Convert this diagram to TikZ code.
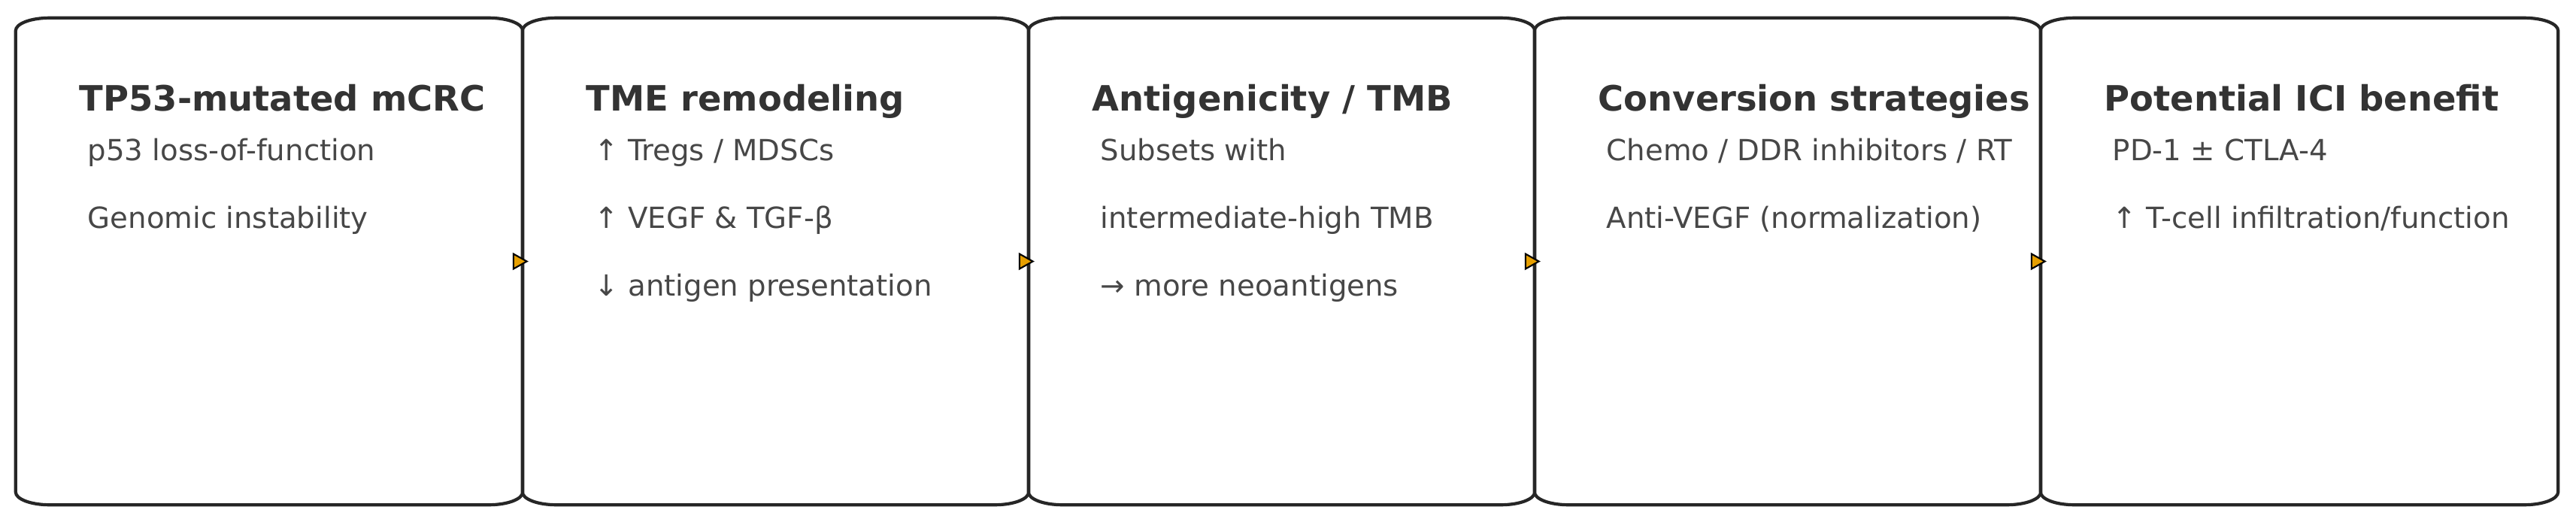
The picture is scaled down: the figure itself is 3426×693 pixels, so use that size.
\documentclass[tikz,border=0pt]{standalone}
\usepackage{fontspec}
\setmainfont{DejaVu Sans}
\usetikzlibrary{arrows.meta}
\definecolor{tipfill}{RGB}{230,159,0}
\tikzset{
  stage/.style={rectangle, minimum height=6.47cm, inner sep=0pt, outer sep=0pt},
  outline/.style={line width=1.2pt, draw=black!85},
  head/.style={anchor=base west, inner sep=0pt, text=black!80,
    font=\fontsize{13.2}{15}\selectfont\bfseries},
  item/.style={anchor=base west, inner sep=0pt, text=black!72,
    font=\fontsize{11.0}{13}\selectfont},
  flow/.style={-{Triangle[length=0.21cm, width=0.23cm, fill=tipfill]},
    line width=0.6pt, draw=black},
}
\begin{document}
\begin{tikzpicture}[x=0.01cm, y=0.01cm]
    \fill[white] (0, 0) rectangle (3426, 693);
    \useasboundingbox (0, 0) rectangle (3426, 693);
    % stages
    \node[stage, minimum width=6.74cm] (b1) at (358, 345.5) {};
    \node[stage, minimum width=6.73cm] (b2) at (1031.5, 345.5) {};
    \node[stage, minimum width=6.73cm] (b3) at (1704.5, 345.5) {};
    \node[stage, minimum width=6.73cm] (b4) at (2377.5, 345.5) {};
    \node[stage, minimum width=6.88cm] (b5) at (3058, 345.5) {};
    \foreach \b in {b1, b2, b3, b4, b5}
      \draw[outline] ([xshift=0.45cm]\b.north west) -- ([xshift=-0.45cm]\b.north east)
        arc[start angle=90, end angle=0, x radius=0.45cm, y radius=0.17cm]
        -- ([yshift=0.17cm]\b.south east)
        arc[start angle=0, end angle=-90, x radius=0.45cm, y radius=0.17cm]
        -- ([xshift=0.45cm]\b.south west)
        arc[start angle=270, end angle=180, x radius=0.45cm, y radius=0.17cm]
        -- ([yshift=-0.17cm]\b.north west)
        arc[start angle=180, end angle=90, x radius=0.45cm, y radius=0.17cm]
        -- cycle;
    % titles
    \node[head] (t1) at (105, 546) {TP53-mutated mCRC};
    \node[head] (t2) at (779, 546) {TME remodeling};
    \node[head] (t3) at (1452, 546) {Antigenicity / TMB};
    \node[head] (t4) at (2125, 546) {Conversion strategies};
    \node[head] (t5) at (2798, 546) {Potential ICI benefit};
    % items
    \node[item] (p1) at (116, 480) {p53 loss-of-function};
    \node[item] (p2) at (116, 390) {Genomic instability};
    \node[item] (q1) at (790, 480) {↑ Tregs / MDSCs};
    \node[item] (q2) at (790, 390) {↑ VEGF \& TGF-β};
    \node[item] (q3) at (790, 300) {↓ antigen presentation};
    \node[item] (r1) at (1463, 480) {Subsets with};
    \node[item] (r2) at (1463, 390) {intermediate-high TMB};
    \node[item] (r3) at (1463, 300) {→ more neoantigens};
    \node[item] (s1) at (2136, 480) {Chemo / DDR inhibitors / RT};
    \node[item] (s2) at (2136, 390) {Anti-VEGF (normalization)};
    \node[item] (u1) at (2809, 480) {PD-1 ± CTLA-4};
    \node[item] (u2) at (2809, 390) {↑ T-cell infiltration/function};
    % links
    \draw[flow] ([xshift=-0.13cm]b1.east) -- ([xshift=0.08cm]b2.west);
    \draw[flow] ([xshift=-0.13cm]b2.east) -- ([xshift=0.08cm]b3.west);
    \draw[flow] ([xshift=-0.13cm]b3.east) -- ([xshift=0.08cm]b4.west);
    \draw[flow] ([xshift=-0.13cm]b4.east) -- ([xshift=0.08cm]b5.west);
\end{tikzpicture}
\end{document}
